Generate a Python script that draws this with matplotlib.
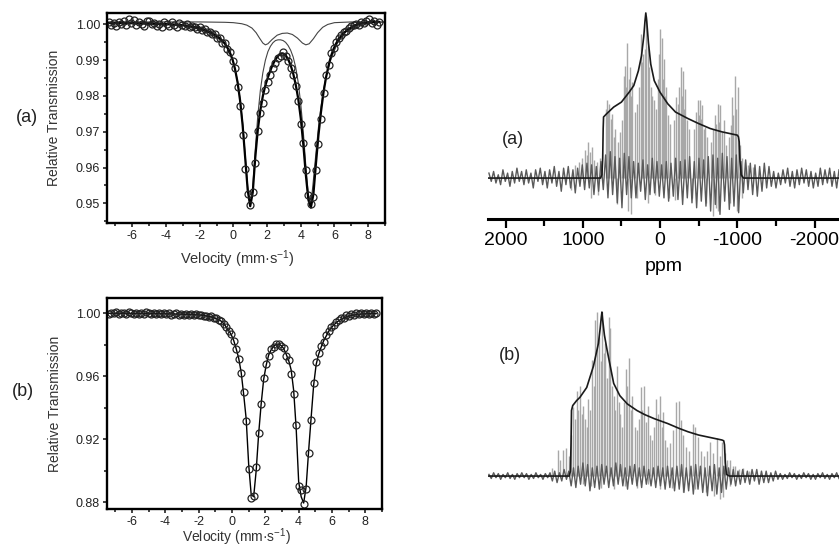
import numpy as np
import matplotlib
matplotlib.use('Agg')
import matplotlib.pyplot as plt
from matplotlib.ticker import MultipleLocator, FormatStrFormatter

plt.rcParams['font.family'] = ['Liberation Sans', 'DejaVu Sans']
plt.rcParams['axes.unicode_minus'] = False
plt.rcParams['mathtext.fontset'] = 'custom'
plt.rcParams['mathtext.rm'] = 'Liberation Sans'
plt.rcParams['mathtext.it'] = 'Liberation Sans:italic'
plt.rcParams['mathtext.bf'] = 'Liberation Sans:bold'

# ---- Moessbauer data (velocity mm/s, relative transmission) ----
vel = [-7.4, -7.25, -7.1, -6.95, -6.8, -6.65, -6.5, -6.35, -6.2, -6.05,
       -5.9, -5.75, -5.6, -5.45, -5.3, -5.15, -5.0, -4.85, -4.7, -4.55,
       -4.4, -4.25, -4.1, -3.95, -3.8, -3.65, -3.5, -3.35, -3.2, -3.05,
       -2.9, -2.75, -2.6, -2.45, -2.3, -2.15, -2.0, -1.85, -1.7, -1.55,
       -1.4, -1.25, -1.1, -0.95, -0.8, -0.65, -0.5, -0.35, -0.2, -0.05,
       0.1, 0.25, 0.4, 0.55, 0.7, 0.85, 1.0, 1.15, 1.3, 1.45,
       1.6, 1.75, 1.9, 2.05, 2.2, 2.35, 2.5, 2.65, 2.8, 2.95,
       3.1, 3.25, 3.4, 3.55, 3.7, 3.85, 4.0, 4.15, 4.3, 4.45,
       4.6, 4.75, 4.9, 5.05, 5.2, 5.35, 5.5, 5.65, 5.8, 5.95,
       6.1, 6.25, 6.4, 6.55, 6.7, 6.85, 7.0, 7.15, 7.3, 7.45,
       7.6, 7.75, 7.9, 8.05, 8.2, 8.35, 8.5, 8.65]

trans_a = [1.0006, 0.9998, 1.0003, 0.9995, 1.0008, 1.0002, 1.0010, 0.9999, 1.0014, 1.0005,
           1.0013, 0.9998, 1.0007, 1.0001, 0.9996, 1.0009, 1.0011, 1.0000, 1.0005, 0.9997,
           1.0002, 0.9994, 1.0006, 1.0001, 0.9996, 1.0006, 0.9999, 0.9993, 1.0005, 0.9998,
           0.9996, 1.0001, 0.9992, 0.9997, 0.9994, 0.9988, 0.9993, 0.9985, 0.9987, 0.9979,
           0.9980, 0.9972, 0.9974, 0.9962, 0.9963, 0.9949, 0.9948, 0.9930, 0.9923, 0.9898,
           0.9877, 0.9826, 0.9772, 0.9690, 0.9595, 0.9527, 0.9495, 0.9531, 0.9612, 0.9702,
           0.9752, 0.9781, 0.9816, 0.9838, 0.9860, 0.9879, 0.9892, 0.9907, 0.9913, 0.9922,
           0.9912, 0.9898, 0.9878, 0.9858, 0.9828, 0.9787, 0.9721, 0.9668, 0.9593, 0.9523,
           0.9497, 0.9518, 0.9593, 0.9665, 0.9737, 0.9807, 0.9858, 0.9886, 0.9919, 0.9935,
           0.9950, 0.9963, 0.9970, 0.9980, 0.9983, 0.9990, 0.9995, 0.9998, 1.0002, 0.9999,
           1.0006, 1.0003, 1.0010, 1.0014, 1.0004, 1.0009, 0.9999, 1.0006]

fit_a = [1.0004, 1.0004, 1.0004, 1.0004, 1.0004, 1.0004, 1.0004, 1.0004, 1.0004, 1.0004,
         1.0004, 1.0003, 1.0003, 1.0003, 1.0003, 1.0003, 1.0003, 1.0003, 1.0002, 1.0002,
         1.0002, 1.0002, 1.0001, 1.0001, 1.0001, 1.0000, 1.0000, 0.9999, 0.9999, 0.9998,
         0.9997, 0.9996, 0.9995, 0.9994, 0.9993, 0.9991, 0.9989, 0.9987, 0.9984, 0.9981,
         0.9978, 0.9975, 0.9971, 0.9966, 0.9961, 0.9954, 0.9946, 0.9935, 0.9921, 0.9902,
         0.9875, 0.9838, 0.9787, 0.9718, 0.9628, 0.9537, 0.9492, 0.9530, 0.9628, 0.9705,
         0.9760, 0.9800, 0.9830, 0.9852, 0.9872, 0.9889, 0.9902, 0.9912, 0.9918, 0.9919,
         0.9914, 0.9903, 0.9886, 0.9863, 0.9832, 0.9792, 0.9738, 0.9665, 0.9580, 0.9510,
         0.9488, 0.9525, 0.9610, 0.9690, 0.9755, 0.9810, 0.9852, 0.9885, 0.9912, 0.9932,
         0.9947, 0.9959, 0.9968, 0.9976, 0.9982, 0.9987, 0.9992, 0.9996, 0.9999, 1.0001,
         1.0003, 1.0004, 1.0005, 1.0006, 1.0006, 1.0007, 1.0007, 1.0007]

# sub-spectra of (a)
minor_v = [-7.5, -2.0, -0.5, 0.0, 0.5, 0.8, 1.1, 1.35, 1.55, 1.75,
           1.9, 2.05, 2.3, 2.6, 2.9, 3.2, 3.5, 3.8, 4.1, 4.3,
           4.5, 4.75, 5.0, 5.3, 5.6, 6.0, 7.0, 9.0]
minor_t = [1.0007, 1.0007, 1.0006, 1.0005, 1.0002, 0.9998, 0.9990, 0.9977, 0.9962, 0.9948,
           0.9943, 0.9946, 0.9958, 0.9970, 0.9975, 0.9976, 0.9972, 0.9962, 0.9948, 0.9943,
           0.9946, 0.9960, 0.9977, 0.9992, 1.0000, 1.0005, 1.0007, 1.0007]
major_v = [-7.5, -3.0, -1.5, -0.5, 0.0, 0.25, 0.4, 0.55, 0.7, 0.85,
           1.0, 1.15, 1.3, 1.45, 1.6, 1.75, 1.9, 2.05, 2.2, 2.35,
           2.5, 2.65, 2.8, 2.95, 3.1, 3.25, 3.4, 3.55, 3.7, 3.85,
           4.0, 4.15, 4.3, 4.45, 4.6, 4.75, 4.9, 5.05, 5.2, 5.35,
           5.5, 5.8, 6.2, 6.7, 7.5, 9.0]
major_t = [1.0004, 0.9998, 0.9980, 0.9947, 0.9897, 0.9841, 0.9791, 0.9725, 0.9636, 0.9548,
           0.9500, 0.9545, 0.9650, 0.9745, 0.9815, 0.9865, 0.9900, 0.9924, 0.9939, 0.9949,
           0.9955, 0.9957, 0.9957, 0.9955, 0.9950, 0.9941, 0.9928, 0.9909, 0.9880, 0.9838,
           0.9778, 0.9700, 0.9605, 0.9525, 0.9495, 0.9565, 0.9640, 0.9712, 0.9770, 0.9817,
           0.9853, 0.9905, 0.9950, 0.9981, 1.0002, 1.0007]

trans_b = [0.9996, 1.0004, 0.9999, 1.0006, 0.9997, 1.0003, 1.0001, 0.9995, 1.0005, 1.0000,
           0.9994, 1.0004, 0.9998, 1.0002, 0.9995, 1.0005, 0.9999, 0.9994, 1.0003, 0.9997,
           1.0004, 0.9993, 1.0000, 0.9995, 1.0003, 0.9992, 0.9998, 1.0001, 0.9991, 0.9997,
           0.9990, 0.9996, 0.9989, 0.9995, 0.9987, 0.9993, 0.9986, 0.9990, 0.9981, 0.9984,
           0.9976, 0.9980, 0.9968, 0.9970, 0.9955, 0.9953, 0.9930, 0.9916, 0.9886, 0.9868,
           0.9822, 0.9770, 0.9712, 0.9619, 0.9500, 0.9318, 0.9010, 0.8830, 0.8840, 0.9022,
           0.9238, 0.9424, 0.9590, 0.9676, 0.9730, 0.9772, 0.9785, 0.9805, 0.9808, 0.9790,
           0.9778, 0.9729, 0.9703, 0.9615, 0.9490, 0.9290, 0.8905, 0.8880, 0.8790, 0.8885,
           0.9111, 0.9323, 0.9560, 0.9693, 0.9746, 0.9790, 0.9815, 0.9862, 0.9890, 0.9915,
           0.9928, 0.9945, 0.9955, 0.9968, 0.9973, 0.9989, 0.9983, 0.9993, 0.9988, 1.0000,
           0.9995, 1.0001, 0.9993, 1.0002, 0.9996, 1.0001, 0.9997, 1.0002]

fit_b = [1.0000, 1.0000, 1.0000, 1.0000, 1.0000, 1.0000, 1.0000, 1.0000, 1.0000, 0.9999,
         0.9999, 0.9999, 0.9999, 0.9999, 0.9999, 0.9999, 0.9998, 0.9998, 0.9998, 0.9998,
         0.9998, 0.9997, 0.9997, 0.9997, 0.9996, 0.9996, 0.9996, 0.9995, 0.9995, 0.9994,
         0.9994, 0.9993, 0.9993, 0.9992, 0.9991, 0.9990, 0.9990, 0.9988, 0.9986, 0.9983,
         0.9980, 0.9977, 0.9972, 0.9967, 0.9960, 0.9950, 0.9935, 0.9913, 0.9890, 0.9865,
         0.9828, 0.9775, 0.9715, 0.9625, 0.9485, 0.9330, 0.9040, 0.8850, 0.8835, 0.9000,
         0.9235, 0.9425, 0.9580, 0.9670, 0.9735, 0.9768, 0.9790, 0.9803, 0.9805, 0.9795,
         0.9776, 0.9740, 0.9700, 0.9640, 0.9510, 0.9270, 0.8930, 0.8835, 0.8795, 0.8900,
         0.9130, 0.9340, 0.9545, 0.9675, 0.9740, 0.9785, 0.9825, 0.9855, 0.9885, 0.9908,
         0.9925, 0.9940, 0.9952, 0.9962, 0.9970, 0.9977, 0.9982, 0.9986, 0.9989, 0.9991,
         0.9993, 0.9995, 0.9996, 0.9997, 0.9997, 0.9998, 0.9998, 0.9998]

# ---- NMR spectra (ppm, normalised intensity) ----
spike_a_ppm = [1100, 1050, 1010, 971, 950, 928, 905, 883, 860, 820, 780,
               700, 686, 670, 656, 640, 621, 600, 577, 550, 520,
               490, 470, 459, 440, 424, 405, 389, 370, 358, 330, 300,
               275, 249, 230, 214, 200, 184, 160, 140, 120, 100, 75, 50,
               30, 15, 0, -22, -35, -48, -65, -79, -100, -130,
               -180, -210, -235, -250, -267, -283, -298, -315, -328, -350, -380,
               -440, -470, -486, -500, -516, -530, -547, -565, -582, -610,
               -660, -690, -713, -730, -748, -765, -779, -800, -823, -850,
               -890, -915, -932, -950, -975, -990, -1010, -1030, -1060, -1100, -1140, -1200]
spike_a_h = [0.08, 0.10, 0.12, 0.17, 0.14, 0.22, 0.16, 0.19, 0.11, 0.10, 0.12,
             0.42, 0.47, 0.40, 0.45, 0.36, 0.39, 0.25, 0.30, 0.22, 0.28,
             0.35, 0.62, 0.68, 0.55, 0.82, 0.60, 0.67, 0.50, 0.58, 0.40, 0.45,
             0.55, 0.87, 0.70, 0.75, 0.78, 0.98, 0.80, 0.67, 0.55, 0.50, 0.47, 0.42,
             0.60, 0.75, 0.90, 0.85, 0.60, 0.72, 0.50, 0.55, 0.38, 0.33,
             0.35, 0.49, 0.45, 0.55, 0.67, 0.50, 0.65, 0.42, 0.54, 0.35, 0.30,
             0.30, 0.40, 0.47, 0.38, 0.47, 0.36, 0.44, 0.30, 0.31, 0.25,
             0.22, 0.30, 0.38, 0.33, 0.45, 0.34, 0.44, 0.28, 0.35, 0.20,
             0.25, 0.32, 0.49, 0.38, 0.62, 0.42, 0.55, 0.20, 0.12, 0.10, 0.08, 0.07]
neg_a_ppm = [1150, 900, 800, 560, 420, 380, 300, 150, 60, -120,
             -200, -420, -600, -680, -720, -750, -900, -1000, -1060]
neg_a_h = [-0.07, -0.12, -0.10, -0.16, -0.20, -0.22, -0.12, -0.15, -0.10, -0.12,
           -0.13, -0.12, -0.15, -0.23, -0.18, -0.20, -0.15, -0.20, -0.12]

noise_a = [0.03, -0.02, 0.04, -0.03, 0.02, -0.04, 0.05, -0.02, 0.03, -0.05,
           0.04, -0.03, 0.06, -0.02, 0.04, -0.04, 0.05, -0.03, 0.03, -0.06,
           0.05, -0.02, 0.06, -0.04, 0.04,
           -0.06, 0.05, -0.03, 0.07, -0.05, 0.04, -0.08, 0.06, -0.04, 0.07,
           -0.06, 0.05, -0.09, 0.06, -0.05, 0.08, -0.07,
           0.09, -0.06, 0.08, -0.10, 0.07, -0.08, 0.10, -0.07,
           0.14, -0.12, 0.16, -0.10, 0.13, -0.15, 0.12, -0.18, 0.15, -0.10, 0.13, -0.12,
           0.10, -0.12, 0.09, -0.08, 0.11, -0.13, 0.08, -0.10, 0.12, -0.09, 0.10, -0.11, 0.08,
           -0.12, 0.10, -0.14, 0.09, -0.11, 0.12, -0.13, 0.10, -0.16, 0.11,
           -0.12, 0.13, -0.15, 0.10, -0.18, 0.12, -0.14, 0.11, -0.17, 0.13,
           -0.20, 0.14, -0.16, 0.12, -0.22, 0.15, -0.14, 0.13, -0.19, 0.12, -0.17, 0.14, -0.21,
           0.10, -0.09, 0.11, -0.07, 0.09, -0.10, 0.08, -0.11, 0.07, -0.08, 0.09, -0.06, 0.07,
           -0.05, 0.04, -0.06, 0.03, -0.04, 0.05, -0.03, 0.06, -0.05, 0.04,
           -0.06, 0.05, -0.04, 0.06, -0.03, 0.05, -0.05, 0.04, -0.06, 0.03,
           -0.05, 0.06, -0.04, 0.05, -0.03, 0.06, -0.05, 0.04, -0.06, 0.05]

fit_a_ppm = [2227, 770, 752, 742, 736, 731, 690, 600, 500, 400,
             340, 280, 240, 210, 195, 184, 172, 150, 120, 75,
             0, -100, -200, -363, -500, -650, -800, -1000, -1015, -1025,
             -1035, -1050, -1080, -2317]
fit_a_nmr = [0, 0, 0.02, 0.12, 0.30, 0.37, 0.39, 0.43, 0.46, 0.52,
             0.56, 0.65, 0.74, 0.86, 0.95, 1.0, 0.95, 0.82, 0.69, 0.59,
             0.52, 0.45, 0.40, 0.36, 0.33, 0.30, 0.28, 0.26, 0.25, 0.22,
             0.10, 0.02, 0.0, 0]

spike_b_ppm = [1400, 1321, 1290, 1256, 1211, 1180, 1150, 1125, 1100, 1080,
               1060, 1037, 1015, 993, 970, 950, 928, 905, 883, 860,
               840, 810, 790, 770, 752, 730, 709, 690, 665, 643,
               620, 600, 578, 555, 535, 512, 490, 470, 446, 425,
               403, 380, 358, 330, 300, 275, 249, 228, 206, 185,
               161, 130, 100, 75, 50, 30, -4, -20, -35, -60,
               -90, -130, -170, -210, -240, -276, -300, -340, -380, -429,
               -459, -494, -530, -570, -604, -647, -690, -735, -770, -800,
               -840, -870, -910, -940, -975, -1020, -1080, -1150]
spike_b_h = [0.05, 0.16, 0.10, 0.16, 0.17, 0.12, 0.25, 0.42, 0.35, 0.52,
             0.40, 0.55, 0.38, 0.43, 0.35, 0.30, 0.47, 0.40, 0.71, 0.55,
             0.95, 1.0, 0.85, 0.70, 1.0, 0.75, 0.81, 0.60, 0.97, 0.90,
             0.55, 0.49, 0.40, 0.67, 0.45, 0.38, 0.30, 0.45, 0.65, 0.55,
             0.72, 0.40, 0.49, 0.30, 0.28, 0.35, 0.54, 0.40, 0.55, 0.33,
             0.43, 0.25, 0.22, 0.30, 0.47, 0.38, 0.49, 0.30, 0.39, 0.22,
             0.18, 0.20, 0.28, 0.45, 0.46, 0.34, 0.25, 0.18, 0.15, 0.32,
             0.30, 0.24, 0.15, 0.12, 0.15, 0.21, 0.14, 0.23, 0.12, 0.21,
             0.14, 0.10, 0.10, 0.06, 0.06, 0.04, 0.05, 0.03]
neg_b_ppm = [1000, 900, 760, 600, 450, 300, 150, 0, -150, -300,
             -450, -600, -700, -780, -820, -900]
neg_b_h = [-0.05, -0.06, -0.07, -0.08, -0.06, -0.07, -0.05, -0.08, -0.07, -0.10,
           -0.08, -0.10, -0.12, -0.14, -0.13, -0.06]

noise_b = [0.01, -0.015, 0.02, -0.01, 0.015, -0.02, 0.01, -0.01, 0.02, -0.015,
           0.01, -0.02, 0.015, -0.01, 0.02, -0.01, 0.015, -0.02, 0.01, -0.015,
           0.02, -0.01, 0.01, -0.02, 0.015, -0.01, 0.02,
           -0.03, 0.03, -0.04, 0.02, -0.03, 0.04, -0.02, 0.03,
           -0.06, 0.05, -0.07, 0.06, -0.05, 0.08, -0.06, 0.07, -0.09, 0.05,
           -0.07, 0.06, -0.08, 0.07, -0.05, 0.06, -0.07, 0.05, -0.06, 0.08,
           -0.05, 0.07, -0.06, 0.05, -0.08, 0.06, -0.05, 0.07, -0.06, 0.05,
           -0.07, 0.06, -0.05, 0.04, -0.06, 0.05, -0.07, 0.06,
           -0.06, 0.05, -0.08, 0.06, -0.07, 0.05, -0.09, 0.06, -0.08, 0.07,
           -0.10, 0.05, -0.09, 0.06, -0.11, 0.07, -0.08, 0.06, -0.10, 0.05,
           -0.12, 0.06, -0.09, 0.07, -0.11, 0.05, -0.10, 0.06, -0.08, 0.05,
           -0.05, 0.04, -0.06, 0.03, -0.05, 0.04, -0.04, 0.03, -0.05, 0.04,
           -0.03, 0.04, -0.05, 0.03, -0.04, 0.03, -0.04, 0.02, -0.03, 0.03,
           -0.02, 0.015, -0.02, 0.01, -0.015, 0.02, -0.01, 0.015, -0.02, 0.01,
           -0.015, 0.02, -0.01, 0.015, -0.02, 0.01, -0.02, 0.015, -0.01, 0.02,
           -0.015, 0.01, -0.02, 0.015, -0.01, 0.02, -0.015]

fit_b_ppm = [2227, 1175, 1160, 1152, 1146, 1130, 1080, 1037, 949, 862,
             820, 797, 775, 760, 752, 742, 720, 686, 640, 600,
             520, 424, 300, 200, 75, -100, -250, -363, -500, -650,
             -800, -825, -835, -845, -860, -900, -2317]
fit_b_nmr = [0, 0, 0.03, 0.2, 0.40, 0.43, 0.46, 0.48, 0.54, 0.67,
             0.76, 0.81, 0.9, 0.97, 1.0, 0.95, 0.86, 0.77, 0.66, 0.565,
             0.49, 0.44, 0.40, 0.375, 0.35, 0.32, 0.29, 0.27, 0.25, 0.235,
             0.22, 0.215, 0.19, 0.08, 0.01, 0, 0]

W, H = 839, 546
fig = plt.figure(figsize=(W / 100, H / 100), dpi=100)


def box(l, t, r, b):
    # pixel box -> figure fraction
    return [l / W, 1 - b / H, (r - l) / W, (b - t) / H]


def moss_axes(ax, ylo, yhi, major, minor):
    ax.set_xlim(-7.5, 9.0)
    ax.set_ylim(ylo, yhi)
    ax.xaxis.set_major_locator(MultipleLocator(2))
    ax.xaxis.set_minor_locator(MultipleLocator(1))
    ax.yaxis.set_major_locator(MultipleLocator(major))
    ax.yaxis.set_minor_locator(MultipleLocator(minor))
    ax.yaxis.set_major_formatter(FormatStrFormatter('%.2f'))
    for s in ax.spines.values():
        s.set_linewidth(1.7)
    ax.tick_params(which='both', direction='out', width=1.2, labelsize=9,
                   colors='#222', pad=2)
    ax.tick_params(which='major', length=3)
    ax.tick_params(which='minor', length=2)
    ax.set_ylabel('Relative Transmission', fontsize=10, color='#333')
    ax.yaxis.set_label_coords(-0.165, 0.5)
    ax.set_xlabel('Velocity (mm\u00b7s$^{-1}$)', fontsize=10.5, color='#333')


# Moessbauer (a)
ax1 = fig.add_axes(box(107, 13, 385, 223))
ax1.plot(minor_v, minor_t, color='#444', lw=0.8)
ax1.plot(major_v, major_t, color='#444', lw=0.8)
ax1.plot(vel, fit_a, color='black', lw=1.6)
ax1.plot(vel, trans_a, 'o', mfc='none', mec='#222', mew=0.9, ms=5)
moss_axes(ax1, 0.9445, 1.0032, 0.01, 0.005)
ax1.xaxis.set_label_coords(0.47, -0.12)

# Moessbauer (b) - its axis title sits at the very bottom edge
ax2 = fig.add_axes(box(107, 298, 382, 509))
ax2.plot(vel, fit_b, color='black', lw=1.0)
ax2.plot(vel, trans_b, 'o', mfc='none', mec='#222', mew=0.9, ms=5)
moss_axes(ax2, 0.8757, 1.0097, 0.04, 0.02)
ax2.xaxis.label.set_fontsize(10)
ax2.xaxis.set_label_coords(0.47, -0.082)


def nmr(ax, spk_ppm, spk_h, neg_ppm, neg_h, noise, fppm, fval):
    ax.vlines(spk_ppm, 0, spk_h, color='#a8a8a8', lw=1.0)
    ax.vlines(neg_ppm, 0, neg_h, color='#a8a8a8', lw=1.0)
    npm = np.linspace(2215, -2317, len(noise))
    ax.plot(npm, noise, color='#5a5a5a', lw=1.0)
    ax.plot(fppm, fval, color='#1a1a1a', lw=1.2)
    ax.set_xlim(2227, -2317)
    ax.set_yticks([])
    for side in ['top', 'left', 'right']:
        ax.spines[side].set_visible(False)


# NMR (a)
ax3 = fig.add_axes(box(488, 10, 839, 219))
nmr(ax3, spike_a_ppm, spike_a_h, neg_a_ppm, neg_a_h, noise_a, fit_a_ppm, fit_a_nmr)
ax3.set_ylim(-0.248, 1.018)
ax3.spines['bottom'].set_linewidth(2.2)
ax3.xaxis.set_major_locator(MultipleLocator(1000))
ax3.xaxis.set_minor_locator(MultipleLocator(500))
ax3.tick_params(which='both', direction='out', width=1.6, labelsize=14, pad=3)
ax3.tick_params(which='major', length=6.5)
ax3.tick_params(which='minor', length=5)
ax3.set_xlabel('ppm', fontsize=14, labelpad=6)

# NMR (b)
ax4 = fig.add_axes(box(488, 305, 839, 520))
nmr(ax4, spike_b_ppm, spike_b_h, neg_b_ppm, neg_b_h, noise_b, fit_b_ppm, fit_b_nmr)
ax4.set_ylim(-0.268, 1.043)
ax4.spines['bottom'].set_visible(False)
ax4.set_xticks([])

# panel labels
fig.text(27 / W, 1 - 118 / H, '(a)', fontsize=13, ha='center', va='center', color='#222')
fig.text(23 / W, 1 - 392 / H, '(b)', fontsize=13, ha='center', va='center', color='#222')
fig.text(513 / W, 1 - 140 / H, '(a)', fontsize=13, ha='center', va='center', color='#222')
fig.text(510 / W, 1 - 355 / H, '(b)', fontsize=13, ha='center', va='center', color='#222')

fig.savefig('out.png', dpi=100)
